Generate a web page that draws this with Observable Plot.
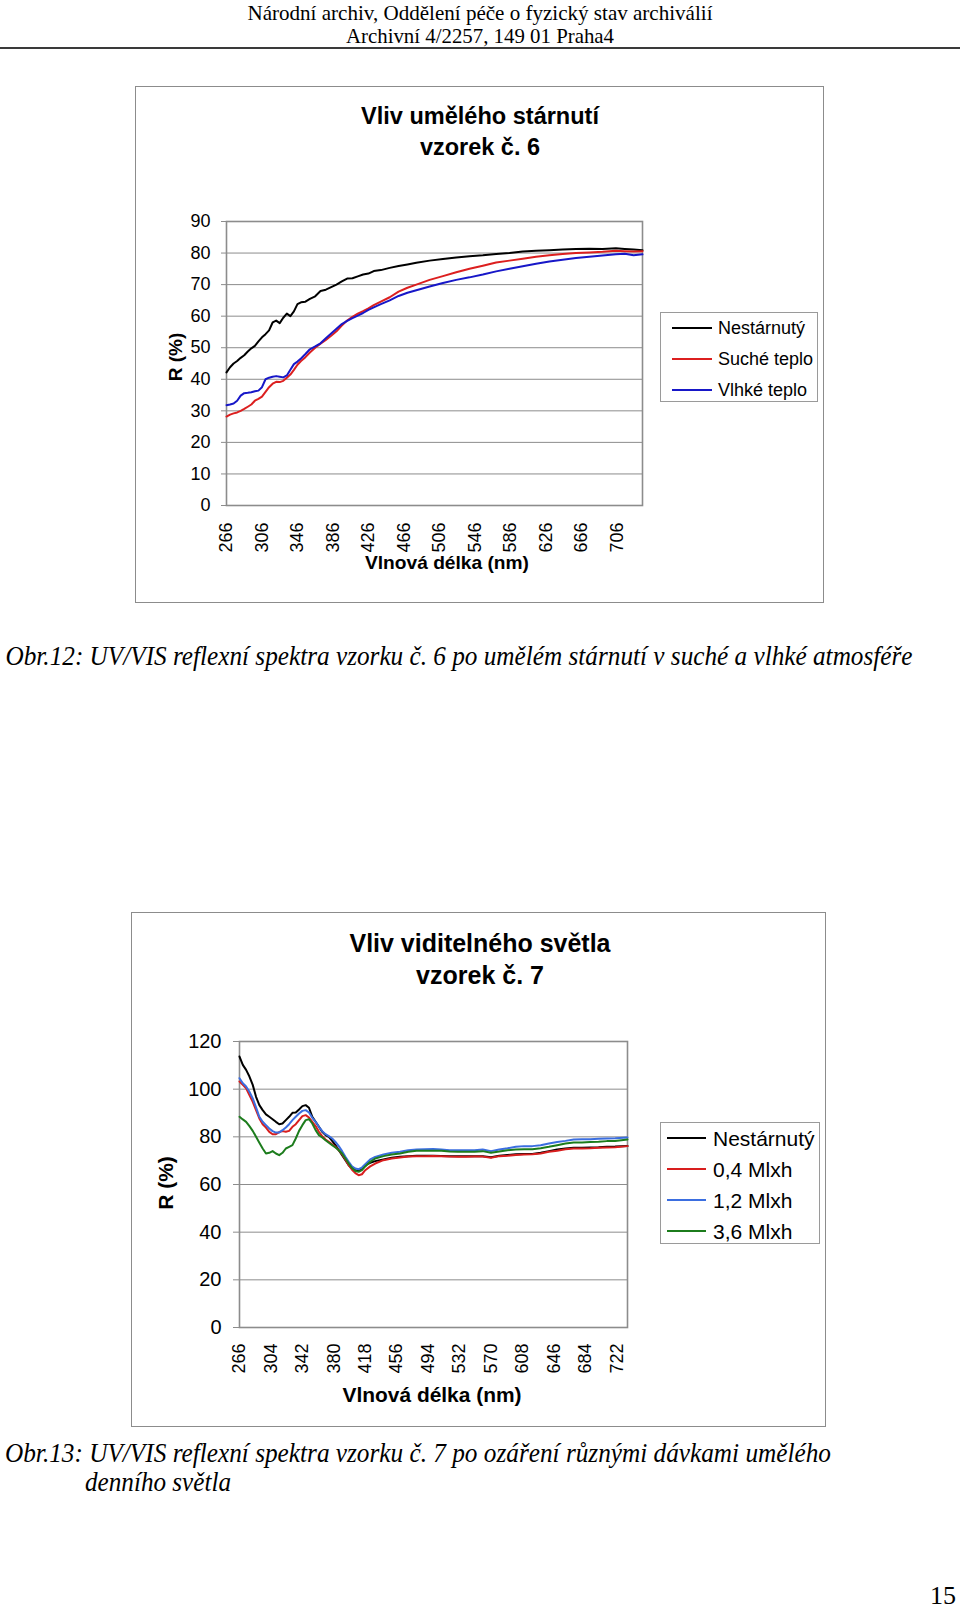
<!DOCTYPE html>
<html lang="cs">
<head>
<meta charset="utf-8">
<script src="https://cdn.jsdelivr.net/npm/d3@7"></script>
<script src="https://cdn.jsdelivr.net/npm/@observablehq/plot@0.6"></script>
<style>
  html, body { margin: 0; padding: 0; background: #fff; }
  #page { position: relative; width: 960px; height: 1613px; overflow: hidden; background: #fff; }
  .abs { position: absolute; }
</style>
</head>
<body>
<div id="page"></div>
<script>
// ---------------- DATA: chart 1 (vzorek č. 6) ----------------
const wl1 = [266,270,274,278,282,286,290,294,298,302,306,310,314,318,322,326,330,334,338,342,346,350,
  355,360,366,372,378,384,390,396,402,408,414,420,426,432,440,450,460,470,480,
  495,510,525,540,555,570,585,600,615,630,645,660,675,690,705,715,725,735];
const nestarnuty1 = [42.2,43.8,45.0,45.8,46.8,47.6,48.8,49.8,50.6,52.0,53.3,54.3,55.5,58.0,58.6,57.8,59.5,60.8,60.0,61.5,63.8,64.4,
  64.6,65.5,66.3,68.0,68.4,69.2,70.0,71.0,71.9,72.0,72.6,73.2,73.5,74.3,74.6,75.3,75.9,76.4,76.9,
  77.6,78.1,78.6,79.0,79.3,79.7,80.0,80.5,80.7,80.9,81.1,81.3,81.4,81.3,81.5,81.3,81.1,80.9];
const sucheTeplo1 = [28.2,28.8,29.2,29.5,30.0,30.6,31.3,32.0,33.2,33.8,34.5,36.0,37.5,38.6,39.2,39.1,39.5,40.5,41.5,43.0,44.6,45.8,
  47.0,48.5,50.0,51.3,52.5,53.8,55.2,57.0,58.6,59.8,60.8,61.6,62.5,63.5,64.6,66.0,67.8,69.0,70.0,
  71.5,72.7,73.9,75.0,76.0,77.0,77.6,78.2,78.8,79.3,79.7,80.0,80.2,80.4,80.7,80.6,80.5,80.6];
const vlhkeTeplo1 = [31.8,32.0,32.3,33.2,34.8,35.6,35.7,35.9,36.2,36.4,37.5,40.0,40.5,40.8,41.0,40.8,40.6,41.2,43.0,44.8,45.6,46.6,
  48.0,49.5,50.4,51.4,53.0,54.5,56.0,57.5,58.5,59.4,60.2,61.0,62.0,62.8,63.8,65.0,66.4,67.4,68.2,
  69.4,70.5,71.5,72.3,73.2,74.2,75.0,75.8,76.6,77.3,77.9,78.4,78.8,79.2,79.6,79.8,79.3,79.6];
const names1 = ["Nestárnutý", "Suché teplo", "Vlhké teplo"];
const colors1 = ["#000000", "#dc1f1f", "#1717c8"];
const xTicks1 = [266,306,346,386,426,466,506,546,586,626,666,706];
const yTicks1 = [0,10,20,30,40,50,60,70,80,90];

// ---------------- DATA: chart 2 (vzorek č. 7) ----------------
const wl2 = [266,270,274,278,282,286,290,294,298,302,306,310,314,318,322,326,330,334,338,342,346,350,354,358,362,366,370,374,378,382,386,390,394,398,402,406,410,414,418,
  424,430,440,450,460,470,480,490,500,510,520,530,540,550,560,570,580,590,600,610,620,630,640,650,660,670,680,690,700,710,720,735];
const nestarnuty2 = [113.7,110.2,108.1,105.3,101.8,96.8,93.3,91.2,89.4,88.4,87.4,86.3,85.3,85.6,87.0,88.4,90.1,90.2,91.5,92.9,93.3,92.2,88.4,86.3,84.2,82.1,80.7,80.0,78.3,76.5,74.4,72.3,70.2,68.1,66.7,66.0,65.7,66.7,68.1,
  69.1,69.8,70.5,71.2,71.6,71.9,72.1,72.1,72.1,72.0,71.9,71.9,71.9,71.9,71.9,71.4,72.1,72.4,72.7,72.8,72.8,73.3,74.0,74.7,75.1,75.4,75.4,75.5,75.6,75.8,75.9,76.2];
const mlxh04 = [103.2,101.8,100.4,97.5,94.7,91.2,87.7,85.3,83.9,82.1,81.1,81.1,82.0,82.4,82.1,82.5,84.2,85.3,87.0,88.7,89.1,88.1,86.3,84.5,82.1,80.3,78.9,77.9,76.9,75.8,74.4,72.7,70.5,68.1,66.2,64.8,63.9,64.3,66.0,
  67.6,68.8,70.2,70.9,71.3,71.7,71.9,71.9,72.0,71.9,71.7,71.6,71.6,71.7,71.7,71.2,71.9,72.1,72.4,72.6,72.7,73.0,73.7,74.2,74.8,75.1,75.1,75.2,75.4,75.5,75.6,76.1];
const mlxh12 = [104.6,102.5,101.1,98.9,96.1,92.4,88.4,86.3,84.9,83.5,82.4,81.8,81.8,82.8,83.9,85.3,87.0,88.4,89.8,90.9,91.2,90.2,88.0,86.3,84.2,82.4,81.1,80.3,79.3,77.9,76.1,74.0,71.6,69.5,67.6,66.7,66.4,67.1,68.5,
  70.5,71.6,72.6,73.3,73.7,74.4,74.7,74.8,74.9,74.7,74.4,74.4,74.4,74.4,74.7,74.0,74.7,75.2,75.8,76.1,76.1,76.5,77.2,77.8,78.3,78.9,79.0,79.0,79.2,79.3,79.4,79.7];
const mlxh36 = [88.4,87.3,86.3,84.5,82.5,80.0,77.5,75.1,73.0,73.3,74.0,73.0,72.3,73.3,75.1,75.8,76.5,79.3,82.5,84.9,87.0,87.4,85.6,82.8,80.7,79.7,78.6,77.5,76.5,75.5,74.4,73.0,70.9,68.8,66.9,65.7,65.3,66.0,67.6,
  69.5,70.9,71.9,72.6,73.0,73.7,74.2,74.2,74.2,74.2,73.8,73.7,73.7,73.7,74.0,73.3,73.8,74.4,74.7,74.8,74.8,75.2,75.8,76.5,77.2,77.6,77.6,77.8,77.9,78.2,78.3,78.9];
const names2 = ["Nestárnutý", "0,4 Mlxh", "1,2 Mlxh", "3,6 Mlxh"];
const colors2 = ["#000000", "#d81e1e", "#3b6ee0", "#1c7c1c"];
const xTicks2 = [266,304,342,380,418,456,494,532,570,608,646,684,722];
const yTicks2 = [0,20,40,60,80,100,120];

// ---------------- TEXTS ----------------
const header1 = "Národní archiv, Oddělení péče o fyzický stav archiválií";
const header2 = "Archivní 4/2257, 149 01 Praha4";
const title1 = ["Vliv umělého stárnutí", "vzorek č. 6"];
const title2 = ["Vliv viditelného světla", "vzorek č. 7"];
const yTitle = "R (%)";
const xTitle = "Vlnová délka (nm)";
const caption1 = "Obr.12: UV/VIS reflexní spektra vzorku č. 6 po umělém stárnutí v suché a vlhké atmosféře";
const caption2a = "Obr.13: UV/VIS reflexní spektra vzorku č. 7 po ozáření různými dávkami umělého";
const caption2b = "denního světla";
const pageNo = "15";

// ---------------- HELPERS ----------------
const SANS = "'Liberation Sans', Arial, Helvetica, sans-serif";
const SERIF = "'Liberation Serif', 'Times New Roman', Times, serif";
const page = document.getElementById("page");

function addText(txt, o) {
  const el = document.createElement("div");
  el.textContent = txt;
  Object.assign(el.style, {
    position: "absolute", whiteSpace: "nowrap", left: "0px", top: "0px",
    fontSize: o.size + "px", fontFamily: o.family || SANS, fontWeight: o.weight || "normal",
    fontStyle: o.style || "normal", lineHeight: "1", color: o.color || "#000"
  });
  page.appendChild(el);
  const w0 = el.getBoundingClientRect().width;
  const sx = o.width ? o.width / w0 : 1;
  const w = w0 * sx;
  const anchor = o.anchor || "middle";
  const cx = anchor === "start" ? o.x + w / 2 : anchor === "end" ? o.x - w / 2 : o.x;
  el.style.left = cx + "px";
  el.style.top = o.y + "px";
  el.style.transform = `translate(-50%,-50%) rotate(${o.rotate || 0}deg) scaleX(${sx})`;
  return el;
}
function addBox(x, y, w, h, border) {
  const el = document.createElement("div");
  el.className = "abs";
  Object.assign(el.style, { left: x + "px", top: y + "px", width: w + "px", height: h + "px",
    border: border, boxSizing: "border-box", pointerEvents: "none" });
  page.appendChild(el);
  return el;
}
function addLine(x1, x2, y, color, thick) {
  const el = document.createElement("div");
  el.className = "abs";
  Object.assign(el.style, { left: x1 + "px", top: (y - thick / 2) + "px", width: (x2 - x1) + "px",
    height: thick + "px", background: color });
  page.appendChild(el);
}
function rowsOf(wl, names, arrays) {
  const rows = [];
  names.forEach((n, i) => arrays[i].forEach((v, j) => rows.push({ wl: wl[j], r: v, s: n })));
  return rows;
}
function makeChart(c) {
  const svg = Plot.plot({
    width: c.w, height: c.h,
    marginLeft: c.ml, marginTop: c.mt, marginRight: c.mr, marginBottom: c.mb,
    x: { domain: [266, 735] },
    y: { domain: c.yDomain },
    color: { domain: c.names, range: c.colors },
    style: { fontFamily: SANS, fontSize: c.tickFont + "px", color: "#000", background: "transparent", overflow: "visible" },
    marks: [
      Plot.gridY(c.yTicks, { stroke: "#8c8c8c", strokeOpacity: 1, strokeWidth: 1 }),
      Plot.frame({ stroke: "#8c8c8c", strokeWidth: 1.6 }),
      Plot.axisY(c.yTicks, { tickSize: c.yTickSize, tickPadding: c.yPad, stroke: "#8c8c8c", strokeOpacity: 1, label: null, fontSize: c.yFont }),
      Plot.axisX(c.xTicks, { tickRotate: -90, tickSize: 0, tickPadding: c.xPad, label: null, fontSize: c.tickFont }),
      Plot.line(c.rows, { x: "wl", y: "r", z: "s", stroke: "s", strokeWidth: 2 })
    ]
  });
  svg.style.position = "absolute";
  svg.style.left = c.x + "px";
  svg.style.top = c.y + "px";
  svg.style.maxWidth = "none";
  page.appendChild(svg);
}

// ---------------- PAGE HEADER ----------------
addText(header1, { x: 480, y: 13, size: 22, family: SERIF, width: 465 });
addText(header2, { x: 480, y: 36, size: 22, family: SERIF, width: 268 });
addLine(0, 960, 48, "#3a3a3a", 2);

// ---------------- CHART 1 ----------------
makeChart({
  x: 135, y: 86, w: 689, h: 517, ml: 91, mt: 135, mr: 182, mb: 98,
  yDomain: [0, 90], yTicks: yTicks1, xTicks: xTicks1, names: names1, colors: colors1,
  rows: rowsOf(wl1, names1, [nestarnuty1, sucheTeplo1, vlhkeTeplo1]),
  tickFont: 18, yFont: 18, yTickSize: 5, yPad: 11, xPad: 17
});
addBox(135, 86, 689, 517, "1.5px solid #8c8c8c");
addText(title1[0], { x: 480, y: 116, size: 23, weight: "bold", width: 238 });
addText(title1[1], { x: 480, y: 147, size: 23, weight: "bold", width: 120 });
addText(yTitle, { x: 175, y: 357, size: 19, weight: "bold", rotate: -90 });
addText(xTitle, { x: 447, y: 562, size: 19, weight: "bold", width: 164 });
addBox(660, 312, 158, 90, "1px solid #9a9a9a");
[328, 359, 390].forEach((yy, i) => {
  addLine(672, 712, yy, colors1[i], 2);
  addText(names1[i], { x: 718, y: yy, size: 18, anchor: "start" });
});
addText(caption1, { x: 5, y: 656, size: 27, family: SERIF, style: "italic", anchor: "start", width: 907 });

// ---------------- CHART 2 ----------------
makeChart({
  x: 131, y: 912, w: 695, h: 515, ml: 108, mt: 129, mr: 199, mb: 100,
  yDomain: [0, 120], yTicks: yTicks2, xTicks: xTicks2, names: names2, colors: colors2,
  rows: rowsOf(wl2, names2, [nestarnuty2, mlxh04, mlxh12, mlxh36]),
  tickFont: 18, yFont: 20, yTickSize: 6, yPad: 12, xPad: 16
});
addBox(131, 912, 695, 515, "1.5px solid #8c8c8c");
addText(title2[0], { x: 480, y: 943, size: 25, weight: "bold", width: 261 });
addText(title2[1], { x: 480, y: 975, size: 25, weight: "bold", width: 128 });
addText(yTitle, { x: 165, y: 1183, size: 21, weight: "bold", rotate: -90 });
addText(xTitle, { x: 432, y: 1394, size: 21, weight: "bold", width: 179 });
addBox(660, 1122, 160, 122, "1px solid #9a9a9a");
[1138, 1169, 1200, 1231].forEach((yy, i) => {
  addLine(667, 706, yy, colors2[i], 2);
  addText(names2[i], { x: 713, y: yy, size: 21, anchor: "start" });
});
addText(caption2a, { x: 5, y: 1453, size: 27, family: SERIF, style: "italic", anchor: "start", width: 826 });
addText(caption2b, { x: 85, y: 1482, size: 27, family: SERIF, style: "italic", anchor: "start", width: 146 });

// ---------------- PAGE NUMBER ----------------
addText(pageNo, { x: 956, y: 1596, size: 26, family: SERIF, anchor: "end" });
</script>
</body>
</html>
